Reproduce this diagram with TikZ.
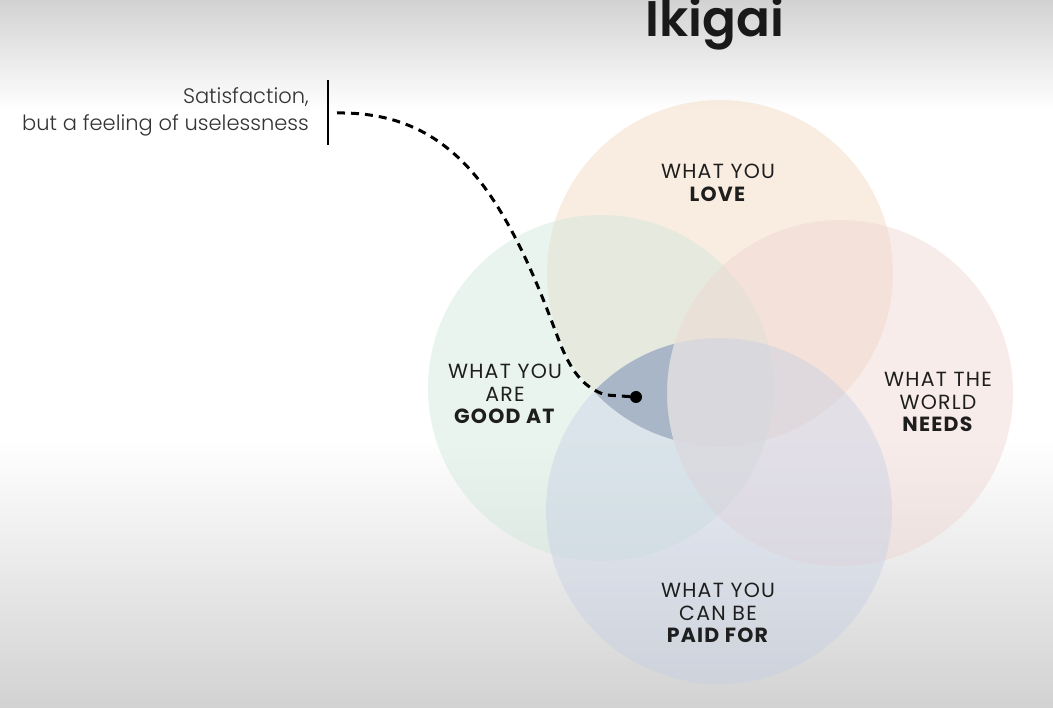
\documentclass[tikz,border=0pt]{standalone}
\usepackage{fontspec}
\setmainfont{Poppins}[LetterSpace=6]
\newfontfamily\ttlfont{Poppins}[UprightFont=* SemiBold]
\newfontfamily\notefont{Poppins}[UprightFont=* Light]
\usetikzlibrary{calc}
\definecolor{bgedge}{HTML}{D2D2D2}
\definecolor{cLove}{HTML}{F2D5BA}
\definecolor{cGood}{HTML}{CDE7DA}
\definecolor{cNeeds}{HTML}{EFD3CF}
\definecolor{cPaid}{HTML}{C4CEE4}
\definecolor{cDark}{HTML}{A9B6C7}
\definecolor{txt}{HTML}{1E1E1E}
\tikzset{
  venn/.style={circle, minimum size=346pt, inner sep=0pt, fill opacity=0.42, text opacity=1},
  lbl/.style={align=center, font=\fontsize{20.5}{22.5}\selectfont, text=txt, inner sep=0pt},
  note/.style={align=right, font=\notefont\fontsize{21}{26.5}\selectfont, text=black!80, inner sep=0pt, anchor=east},
  ttl/.style={font=\ttlfont\fontsize{50}{50}\selectfont, text=black!90, inner sep=0pt},
  leader/.style={line width=3pt, dash pattern=on 8pt off 6pt, black},
}
\begin{document}
\begin{tikzpicture}[x=1pt,y=-1pt]
\useasboundingbox (0,0) rectangle (1053,708);
% background
\shade[top color=bgedge, bottom color=white] (0,0) rectangle (1053,110);
\fill[white] (0,110) rectangle (1053,440);
\shade[top color=white, bottom color=bgedge] (0,440) rectangle (1053,708);
% circles
\node[venn, fill=cLove]  (love)  at (720,273) {};
\node[venn, fill=cGood]  (good)  at (601,388) {};
\node[venn, fill=cNeeds] (needs) at (840,393) {};
\node[venn, fill=cPaid]  (paid)  at (719,511) {};
% highlighted region: love & good & paid, minus needs
\begin{scope}
  \clip (720,273) circle (173);
  \clip (601,388) circle (173);
  \clip (719,511) circle (173);
  \fill[cDark, even odd rule] (400,200) rectangle (900,600) (840,393) circle (173);
\end{scope}
% labels
\node[lbl] (tLove) at (718,183) {WHAT YOU\\\textbf{LOVE}};
\node[lbl] (tGood) at (505,394) {WHAT YOU\\ARE\\\textbf{GOOD AT}};
\node[lbl] (tNeeds) at (938,402) {WHAT THE\\WORLD\\\textbf{NEEDS}};
\node[lbl] (tPaid) at (718,613) {WHAT YOU\\CAN BE\\\textbf{PAID FOR}};
% title
\node[ttl] (title) at (715,24) {Ikigai};
% annotation
\node[note] (note) at (309,112) {Satisfaction,\\but a feeling of uselessness};
\node[fill=black, minimum width=2.6pt, minimum height=65pt, inner sep=0pt] (bar) at (328,112.5) {};
\node[circle, fill=black, minimum size=12pt, inner sep=0pt] (dot) at (636,397) {};
\coordinate (start) at (337,113);
\draw[leader] (start) .. controls (405,112) and (452,140) .. (490,195)
  .. controls (522,242) and (543,298) .. (558,338)
  .. controls (570,370) and (583,388) .. (606,395) -- (dot.center);
\end{tikzpicture}
\end{document}
